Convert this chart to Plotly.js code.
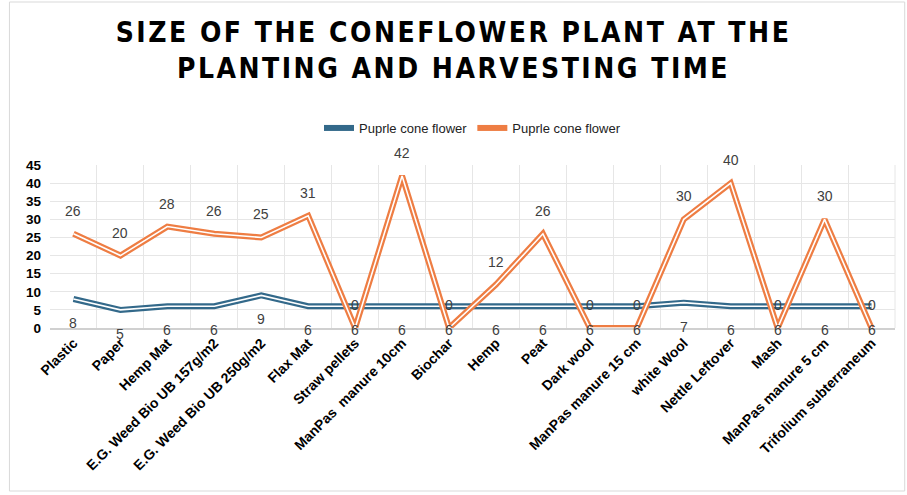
<!DOCTYPE html>
<html>
<head>
<meta charset="utf-8">
<script src="https://cdn.plot.ly/plotly-3.0.1.min.js"></script>
<style>
html,body{margin:0;padding:0;background:#fff;}
#chart{width:907px;height:495px;}
.gtitle{letter-spacing:2.5px;}
</style>
</head>
<body>
<div id="chart"></div>
<script>
const categories = ["Plastic","Paper","Hemp Mat","E.G. Weed Bio UB 157g/m2","E.G. Weed Bio UB 250g/m2","Flax Mat","Straw pellets","ManPas  manure 10cm","Biochar","Hemp","Peat","Dark wool","ManPas manure 15 cm","white Wool","Nettle Leftover","Mash","ManPas manure 5 cm","Trifolium subterraneum"];
const plantingSize = [8,5,6,6,9,6,6,6,6,6,6,6,6,7,6,6,6,6];
const harvestSize = [26,20,28,26,25,31,0,42,0,12,26,0,0,30,40,0,30,0];
const seriesNames = ["Puprle cone flower","Puprle cone flower"];
const yTicks = [0,5,10,15,20,25,30,35,40,45];

const blue = "#33698A";
const orange = "#EE7D43";

function pair(y, color, name) {
  return [
    {x: categories, y: y, type: "scatter", mode: "lines", name: name,
     line: {color: color, width: 6}, cliponaxis: false, hoverinfo: "skip"},
    {x: categories, y: y, type: "scatter", mode: "lines", showlegend: false,
     line: {color: "#ffffff", width: 1.6}, cliponaxis: false, hoverinfo: "skip"}
  ];
}
const data = [...pair(plantingSize, blue, seriesNames[0]), ...pair(harvestSize, orange, seriesNames[1])];

const annotations = [];
categories.forEach((c, i) => {
  annotations.push({x: c, y: harvestSize[i], xref: "x", yref: "y", text: String(harvestSize[i]),
    showarrow: false, yshift: 23, font: {family: "Liberation Sans, Arial", size: 14, color: "#404040"}});
  annotations.push({x: c, y: plantingSize[i], xref: "x", yref: "y", text: String(plantingSize[i]),
    showarrow: false, yshift: -24, font: {family: "Liberation Sans, Arial", size: 14, color: "#404040"}});
});

const layout = {
  width: 907, height: 495,
  paper_bgcolor: "#ffffff", plot_bgcolor: "#ffffff",
  margin: {l: 50, r: 12, t: 165, b: 167},
  title: {text: "SIZE OF THE CONEFLOWER PLANT AT THE<br>PLANTING AND HARVESTING TIME",
    x: 0.5, xanchor: "center", y: 0.915, yanchor: "middle",
    font: {family: "DejaVu Sans Condensed, DejaVu Sans", size: 28, color: "#000000", weight: 700}},
  showlegend: true,
  legend: {orientation: "h", x: 0.5, xanchor: "center", y: 1.227, yanchor: "middle", yref: "paper",
    font: {family: "Liberation Sans, Arial", size: 13, color: "#222"}},
  xaxis: {type: "category", tickson: "boundaries", showgrid: true, gridcolor: "#e6e6e6", gridwidth: 1,
    tickangle: -45, ticks: "", showline: true, linecolor: "#d0d0d0", linewidth: 1.5, mirror: false,
    tickfont: {family: "Liberation Sans, Arial", size: 14, color: "#000", weight: 700},
    range: [-0.5, 17.5], automargin: false, fixedrange: true},
  yaxis: {range: [0, 45], tickvals: yTicks, ticktext: yTicks.map(String), showgrid: true, gridcolor: "#e6e6e6",
    zeroline: false, showline: false, ticks: "", ticklabelstandoff: 8,
    tickfont: {family: "Liberation Sans, Arial", size: 13.5, color: "#000", weight: 700},
    automargin: false, fixedrange: true},
  annotations: annotations,
  shapes: [
    {type: "rect", xref: "paper", yref: "paper", x0: -0.048, x1: 1.0115, y0: -1.0, y1: 2.0,
     line: {color: "#d9d9d9", width: 1}, fillcolor: "rgba(0,0,0,0)", layer: "below"},
    {type: "line", xref: "paper", yref: "paper", x0: 1, x1: 1, y0: 0, y1: 1, line: {color: "#e6e6e6", width: 1}, layer: "below"}
  ]
};

Plotly.newPlot("chart", data, layout, {displayModeBar: false, staticPlot: true});
</script>
</body>
</html>
